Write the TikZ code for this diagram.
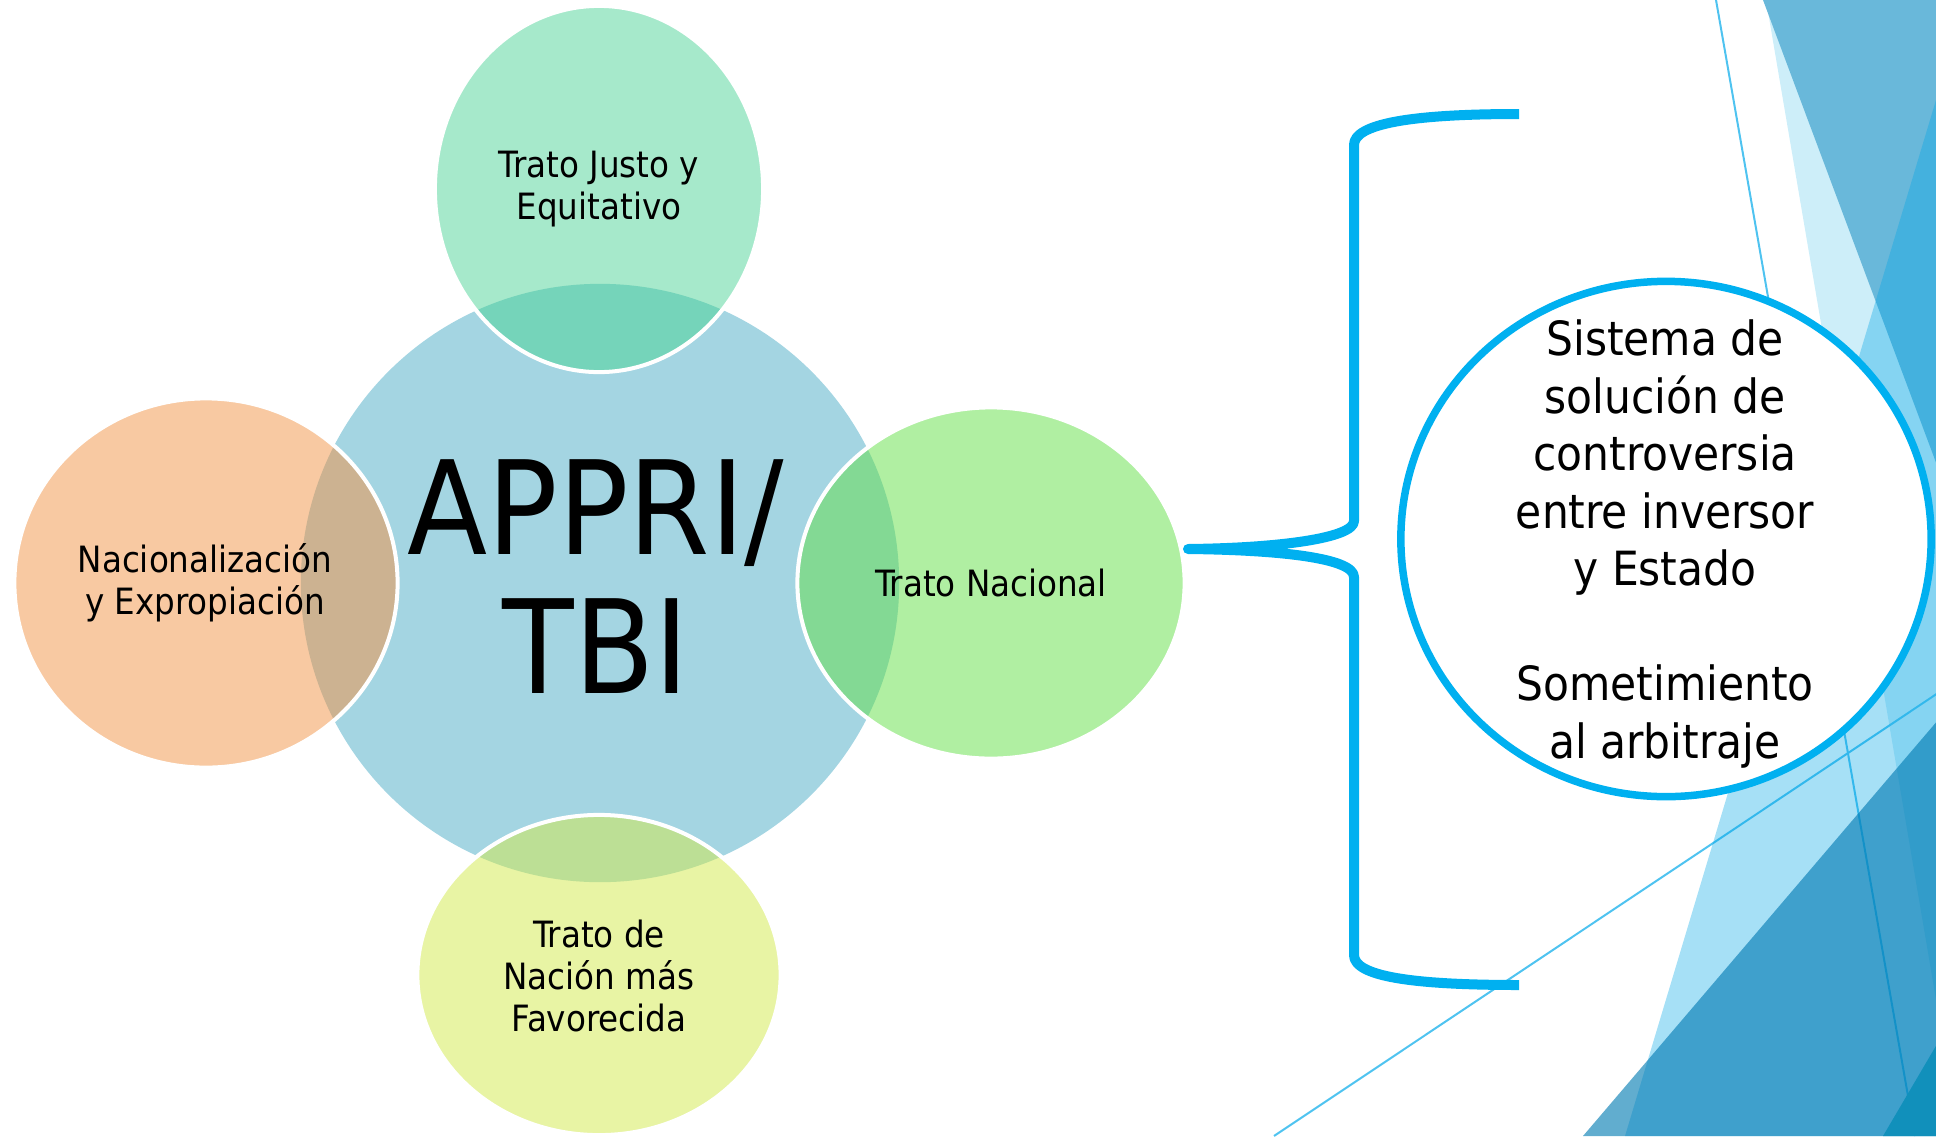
\documentclass[tikz,border=0pt]{standalone}
\usepackage{fontspec}
\setmainfont{DejaVu Sans Condensed}
\definecolor{cmain}{HTML}{A4D5E2}
\definecolor{ctop}{HTML}{A6E9CB}
\definecolor{ctopL}{HTML}{75D4BA}
\definecolor{cleft}{HTML}{F8C9A2}
\definecolor{cleftL}{HTML}{CCB291}
\definecolor{cright}{HTML}{B0EFA2}
\definecolor{crightL}{HTML}{83D994}
\definecolor{cbot}{HTML}{E8F4A4}
\definecolor{cbotL}{HTML}{BCDF95}
\definecolor{accent}{HTML}{00B0F0}
\definecolor{thinblue}{HTML}{4FC3F0}
\definecolor{facL}{HTML}{CDEEF9}
\definecolor{facM}{HTML}{69B8DA}
\definecolor{facT}{RGB}{0,165,230}
\definecolor{facD}{RGB}{0,122,178}
\definecolor{facE}{HTML}{1190BB}
\begin{document}
\begin{tikzpicture}[x=0.01cm,y=-0.01cm,
  lab/.style={font=\fontsize{10.3}{11.9}\selectfont, align=center, inner sep=0pt, text=black},
  ring/.style={draw=white, line width=0.04cm},
  thinline/.style={draw=thinblue, line width=0.02cm}]
\useasboundingbox (0,0) rectangle (1936,1136);
% ---- decoration on the right
\begin{scope}
\clip (0,0) rectangle (1936,1136);
\fill[facL] (1766,0) -- (1950,0) -- (1950,1082) -- cycle;
\fill[facM] (1763,0) -- (1950,0) -- (1950,500) -- cycle;
\draw[thinline] (1716,0) -- (1915,1136);
\draw[thinline] (1274,1136) -- (1950,685);
\fill[facT, fill opacity=0.35] (1966,0) -- (1625,1136) -- (1990,1136) -- (1990,0) -- cycle;
\fill[facD, fill opacity=0.62] (1583,1136) -- (1950,706) -- (1950,1136) -- cycle;
\fill[facE] (1883,1136) -- (1950,1022) -- (1950,1136) -- cycle;
\end{scope}
% ---- Venn
\fill[cmain] (600,583) circle [radius=2.99cm];
\fill[ctop] (599,189) ellipse [x radius=1.64cm, y radius=1.83cm];
\fill[cleft] (206,583) ellipse [x radius=1.915cm, y radius=1.845cm];
\fill[cright] (991,583) ellipse [x radius=1.935cm, y radius=1.755cm];
\fill[cbot] (599,975) ellipse [x radius=1.815cm, y radius=1.60cm];
\begin{scope}
\clip (600,583) circle [radius=2.99cm];
\fill[ctopL] (599,189) ellipse [x radius=1.64cm, y radius=1.83cm];
\fill[cleftL] (206,583) ellipse [x radius=1.915cm, y radius=1.845cm];
\fill[crightL] (991,583) ellipse [x radius=1.935cm, y radius=1.755cm];
\fill[cbotL] (599,975) ellipse [x radius=1.815cm, y radius=1.60cm];
\end{scope}
\draw[ring] (599,189) ellipse [x radius=1.64cm, y radius=1.83cm];
\draw[ring] (206,583) ellipse [x radius=1.915cm, y radius=1.845cm];
\draw[ring] (991,583) ellipse [x radius=1.935cm, y radius=1.755cm];
\draw[ring] (599,975) ellipse [x radius=1.815cm, y radius=1.60cm];
\node[font=\fontsize{37}{39.5}\selectfont, align=center, inner sep=0pt] (appri) at (596,577) {APPRI/\\TBI};
\node[lab] (tje) at (599,189) {Trato Justo y\\Equitativo};
\node[lab] (nye) at (205,583) {Nacionalización\\y Expropiación};
\node[lab] (tn) at (991,583) {Trato Nacional};
\node[lab] (tnmf) at (599,976) {Trato de\\Nación más\\Favorecida};
% ---- bracket
\coordinate (tip) at (1188,549);
\coordinate (bt) at (1519,114);
\coordinate (bb) at (1519,985);
\draw[accent, line width=0.1cm, line join=round]
  (bt) .. controls (1410,114) and (1354,124) .. (1354,145)
  -- (1354,521) .. controls (1354,538) and (1280,548) .. (tip)
  .. controls (1280,550) and (1354,558) .. (1354,577)
  -- (1354,955) .. controls (1354,976) and (1410,985) .. (bb);
% ---- result circle
\draw[accent, line width=0.075cm, fill=white] (1666,539) ellipse [x radius=2.65cm, y radius=2.575cm];
\node[font=\fontsize{13.4}{16.36}\selectfont, align=center, inner sep=0pt] (sol) at (1665,544)
  {Sistema de\\solución de\\controversia\\entre inversor\\y Estado\\[16.36pt]Sometimiento\\al arbitraje};
\end{tikzpicture}
\end{document}
